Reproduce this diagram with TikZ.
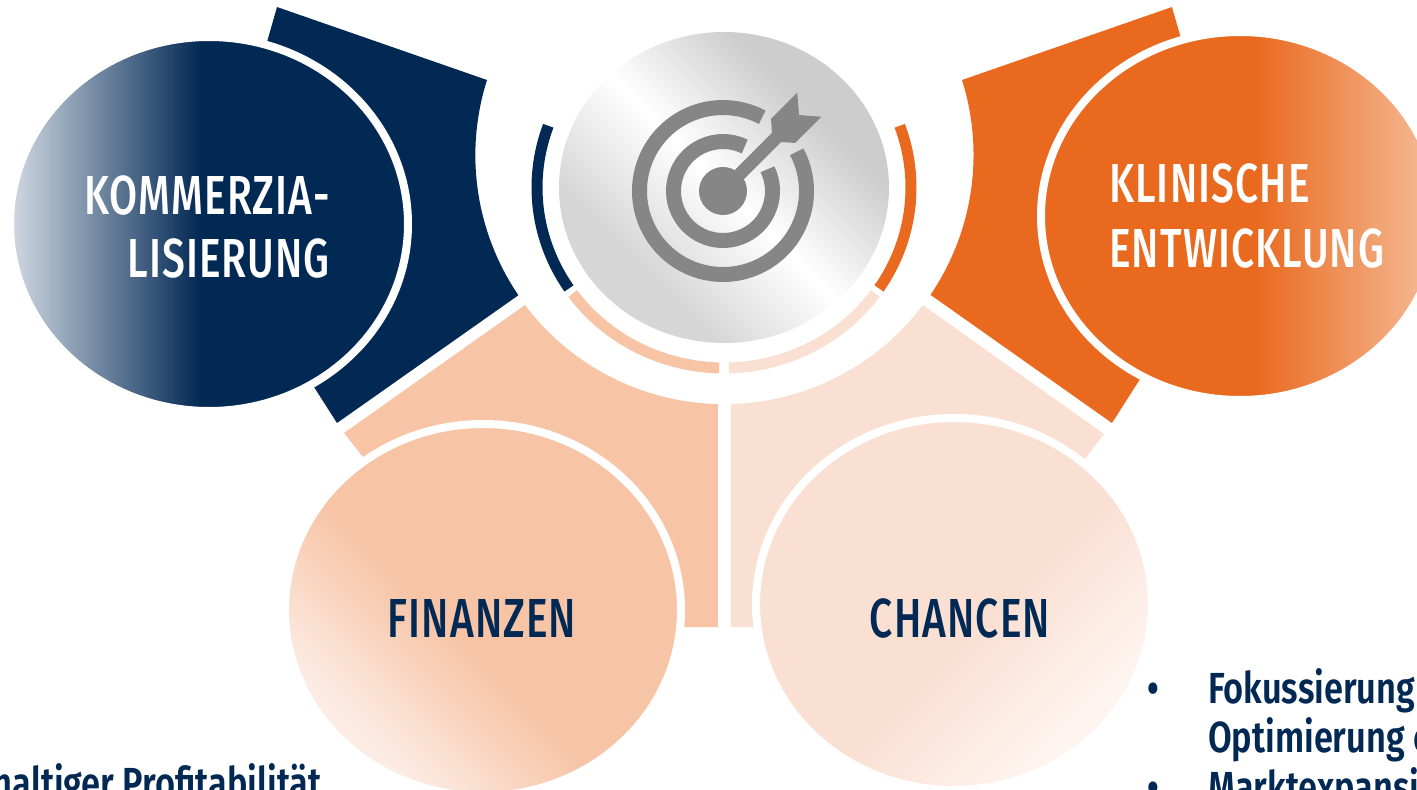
\documentclass[tikz,border=0pt]{standalone}
\usepackage{fontspec}
\setmainfont{Fira Sans}
\newfontfamily\headfont[FakeStretch=0.74, LetterSpace=2]{Fira Sans Medium}
\newfontfamily\bodyfont[FakeStretch=0.79]{Fira Sans SemiBold}
\usetikzlibrary{calc}
\definecolor{navy}{RGB}{2,40,84}
\definecolor{orng}{RGB}{233,106,31}
\definecolor{peach}{RGB}{247,196,166}
\definecolor{lpeach}{RGB}{250,224,211}
\definecolor{icongray}{RGB}{134,134,134}
\definecolor{navypale}{RGB}{210,218,228}
\definecolor{orngpale}{RGB}{246,190,156}
\definecolor{peachpale}{RGB}{252,236,228}
\definecolor{lpeachpale}{RGB}{254,245,240}
\definecolor{gA}{RGB}{205,205,205}
\definecolor{gB}{RGB}{214,214,214}
\pgfdeclarehorizontalshading{navyshade}{100bp}{color(0bp)=(navypale); color(25bp)=(navypale); color(49bp)=(navy); color(100bp)=(navy)}
\pgfdeclarehorizontalshading{orngshade}{100bp}{color(0bp)=(orng); color(52bp)=(orng); color(75bp)=(orngpale); color(100bp)=(orngpale)}
\pgfdeclarehorizontalshading{finshade}{100bp}{color(0bp)=(peachpale); color(27bp)=(peachpale); color(45bp)=(peach); color(100bp)=(peach)}
\pgfdeclarehorizontalshading{chashade}{100bp}{color(0bp)=(lpeach); color(55bp)=(lpeach); color(73bp)=(lpeachpale); color(100bp)=(lpeachpale)}
\pgfdeclarehorizontalshading{metal}{100bp}{color(0bp)=(gB); color(32bp)=(gB); color(50bp)=(white); color(68bp)=(gA); color(100bp)=(gA)}
\tikzset{
  bigcirc/.style={draw=white, line width=8pt},
  ringarc/.style={line width=11pt},
  head/.style={font=\headfont\fontsize{55}{60}\selectfont, inner sep=0pt},
  body/.style={font=\bodyfont\fontsize{43.5}{48}\selectfont, text=navy, inner sep=0pt},
}
\begin{document}
\begin{tikzpicture}[x=1pt, y=-1pt]
\useasboundingbox (0,0) rectangle (1417,790);
\clip (0,0) rectangle (1417,790);
\coordinate (G) at (724,187.5);
% petals
\fill[navy] (277,7) -- (487,80) arc[start angle=197.6, end angle=145.8, radius=249] -- (337,423) -- (291,351) -- (257,77) -- cycle;
\fill[orng] (1172,7) -- (962,80) arc[start angle=-17.5, end angle=34.2, radius=249] -- (1112,423) -- (1158,351) -- (1192,77) -- cycle;
\fill[peach] (344,433) -- (525,305) arc[start angle=143, end angle=91.4, radius=249] -- (718,627) -- (640,627) -- (382,481) -- cycle;
\fill[lpeach] (731,627) -- (731,404) arc[start angle=88.4, end angle=37, radius=249] -- (1104,434) -- (1066,484) -- (800,627) -- cycle;
% big circles
\shadedraw[bigcirc, shading=navyshade] (209,224) ellipse [x radius=199, y radius=187];
\shadedraw[bigcirc, shading=orngshade] (1240,216) ellipse [x radius=199, y radius=184];
\shadedraw[bigcirc, shading=finshade, shading angle=45] (483,610) ellipse [x radius=198, y radius=186];
\shadedraw[bigcirc, shading=chashade, shading angle=-45] (954,604) ellipse [x radius=198, y radius=186];
% central disc and ring
\shade[shading=metal, shading angle=45] (G) ellipse [x radius=165, y radius=155.5];
\draw[ringarc, draw=navy] (G) ++(200:187 and 180.5) arc[start angle=200, end angle=146, x radius=187, y radius=180.5];
\draw[ringarc, draw=peach] (G) ++(144:187 and 180.5) arc[start angle=144, end angle=91.5, x radius=187, y radius=180.5];
\draw[ringarc, draw=lpeach] (G) ++(88.5:187 and 180.5) arc[start angle=88.5, end angle=36, x radius=187, y radius=180.5];
\draw[ringarc, draw=orng] (G) ++(34:187 and 180.5) arc[start angle=34, end angle=-20, x radius=187, y radius=180.5];
% target icon
\begin{scope}[shift={(723,191)}, rotate=45]
  \draw[icongray, line width=15pt] (17:83.5) arc[start angle=17, end angle=343, radius=83.5];
  \draw[icongray, line width=15pt] (19:49.5) arc[start angle=19, end angle=341, radius=49.5];
  \fill[icongray] (0,0) circle[radius=24];
  \fill[icongray] (0,-6.5) rectangle (100,6.5);
  \fill[icongray] (70,0) -- (85,-17) -- (122,-17) -- (107.5,0) -- (122,17) -- (85,17) -- cycle;
\end{scope}
% texts
\node[head, text=white, anchor=base east] (kom1) at (330,214) {KOMMERZIA-};
\node[head, text=white, anchor=base east] (kom2) at (330,277) {LISIERUNG};
\node[head, text=white, anchor=base west] (kli1) at (1109,202) {KLINISCHE};
\node[head, text=white, anchor=base west] (kli2) at (1109,267) {ENTWICKLUNG};
\node[head, text=navy, anchor=base] (fin) at (482,637) {FINANZEN};
\node[head, text=navy, anchor=base] (cha) at (960,637) {CHANCEN};
\node[body, anchor=base] (b1) at (1153,703) {•};
\node[body, anchor=base west] (t1) at (1208,703) {Fokussierung};
\node[body, anchor=base west] (t2) at (1208,752) {Optimierung c};
\node[body, anchor=base] (b3) at (1153,802) {•};
\node[body, anchor=base west] (t3) at (1208,802) {Marktexpansi};
\node[body, anchor=base east] (t4) at (322,798) {haltiger Profitabilität};
\end{tikzpicture}
\end{document}
